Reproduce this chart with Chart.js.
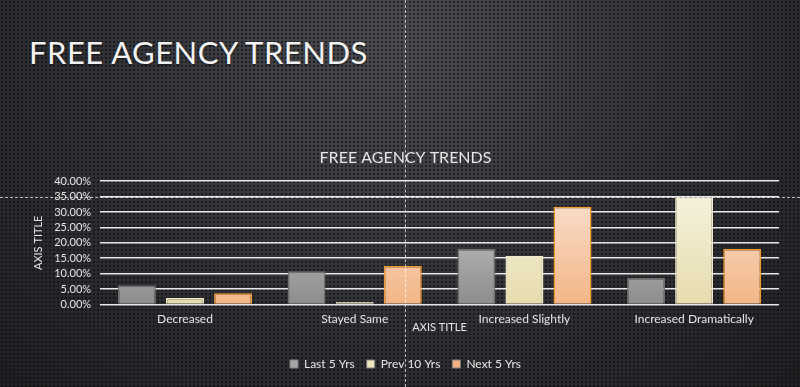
<!DOCTYPE html>
<html>
<head>
<meta charset="utf-8">
<script src="https://cdn.jsdelivr.net/npm/chart.js@4/dist/chart.umd.min.js"></script>
<style>
  html, body { margin: 0; padding: 0; }
  body {
    width: 800px; height: 387px; overflow: hidden; position: relative;
    background-color: #2a2b2e;
    background-image:
      radial-gradient(circle, rgba(10,10,12,0.6) 1px, transparent 1.6px),
      radial-gradient(ellipse at 50% 10%, #4a4c51 0%, #313236 55%, #1e1f21 100%);
    background-size: 4px 4px, 100% 100%;
    font-family: Lato, sans-serif;
  }
  #slideTitle {
    position: absolute; left: 29px; top: 33px;
    font-size: 31px; color: #f2f2f2; letter-spacing: 0.5px;
    text-shadow: 0 1px 2px rgba(0,0,0,0.6);
  }
  .guideH { position: absolute; left: 0; top: 197px; width: 800px; border-top: 1px dashed rgba(255,255,255,0.7); }
  .guideV { position: absolute; left: 405px; top: 0; height: 387px; border-left: 1px dashed rgba(255,255,255,0.7); }
  #wrap { position: absolute; left: 0; top: 140px; width: 800px; height: 240px; }
</style>
</head>
<body>
<div id="slideTitle">FREE AGENCY TRENDS</div>
<div id="wrap"><canvas id="chart"></canvas></div>
<div class="guideH"></div>
<div class="guideV"></div>
<script>
// data
var categories = ["Decreased", "Stayed Same", "Increased Slightly", "Increased Dramatically"];
var seriesNames = ["Last 5 Yrs", "Prev 10 Yrs", "Next 5 Yrs"];
var last5 = [0.062, 0.108, 0.180, 0.086];
var prev10 = [0.021, 0.008, 0.157, 0.347];
var next5 = [0.036, 0.125, 0.317, 0.180];

// top / bottom gradient colours and border for each series
var fills = [["#d4d4d4", "#8c8c8c"], ["#f8f4e2", "#e6dcae"], ["#fbe4d6", "#f2b687"]];
var borders = ["#6f6f6f", "#f0eacb", "#f49a32"];
var legendColors = ["#a6a6a6", "#efe6bf", "#f4b183"];

function grad(i) {
  return function (ctx) {
    var chart = ctx.chart;
    var area = chart.chartArea;
    if (!area) return fills[i][1];
    var g = chart.ctx.createLinearGradient(0, area.top, 0, area.bottom);
    g.addColorStop(0, fills[i][0]);
    g.addColorStop(1, fills[i][1]);
    return g;
  };
}

var allValues = [last5, prev10, next5];
var datasets = [];
for (var i = 0; i < allValues.length; i++) {
  datasets.push({
    label: seriesNames[i],
    data: allValues[i],
    backgroundColor: grad(i),
    borderColor: borders[i],
    borderWidth: 1.5,
    categoryPercentage: 0.85,
    barPercentage: 0.79
  });
}

var txt = "#e6e6e6";
new Chart(document.getElementById("chart"), {
  type: "bar",
  data: { labels: categories, datasets: datasets },
  options: {
    responsive: true,
    maintainAspectRatio: false,
    animation: false,
    layout: { padding: { left: 32, right: 21, top: 0, bottom: 0 } },
    plugins: {
      title: {
        display: true, text: "FREE AGENCY TRENDS", color: txt,
        font: { family: "Lato", size: 16, weight: "normal" }, padding: { top: 8, bottom: 14 }
      },
      legend: {
        position: "bottom",
        labels: {
          color: txt, font: { family: "Lato", size: 12 },
          boxWidth: 8, boxHeight: 8, padding: 12,
          generateLabels: function (chart) {
            return seriesNames.map(function (n, k) {
              return { text: n, fillStyle: legendColors[k], strokeStyle: "#808080", lineWidth: 1, fontColor: txt, datasetIndex: k };
            });
          }
        }
      },
      tooltip: { enabled: false }
    },
    scales: {
      x: {
        grid: { display: false },
        border: { display: false },
        ticks: { color: txt, font: { family: "Lato", size: 12 }, padding: 0 },
        title: { display: true, text: "AXIS TITLE", color: txt, font: { family: "Lato", size: 11 }, padding: { top: -6, bottom: 12 } }
      },
      y: {
        min: 0, max: 0.4,
        ticks: {
          stepSize: 0.05, autoSkip: false, color: txt, font: { family: "Lato", size: 11 }, padding: 9,
          callback: function (v) { return (v * 100).toFixed(2) + "%"; }
        },
        grid: { color: "#e8e8e8", lineWidth: 1.5, drawTicks: false },
        border: { display: false },
        title: { display: true, text: "AXIS TITLE", color: txt, font: { family: "Lato", size: 11 }, padding: 0 }
      }
    }
  }
});
</script>
</body>
</html>
